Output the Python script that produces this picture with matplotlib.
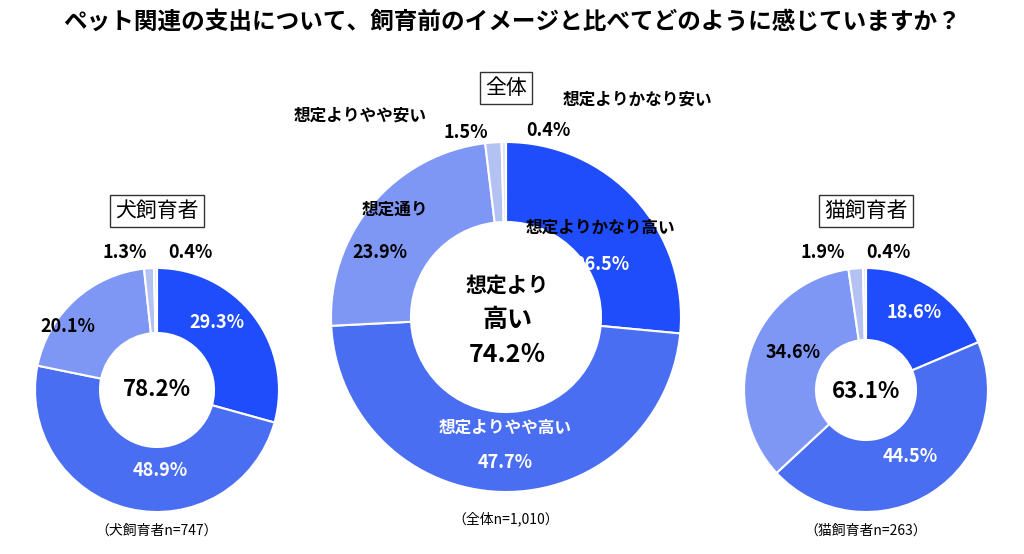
import matplotlib
matplotlib.use("Agg")
import matplotlib.pyplot as plt

plt.rcParams['font.family'] = ['Noto Sans CJK JP', 'DejaVu Sans']

categories = ["想定よりかなり高い", "想定よりやや高い", "想定通り", "想定よりやや安い", "想定よりかなり安い"]
dog = [29.3, 48.9, 20.1, 1.3, 0.4]
total = [26.5, 47.7, 23.9, 1.5, 0.4]
cat = [18.6, 44.5, 34.6, 1.9, 0.4]
colors = ["#1f4dfc", "#4a6ef2", "#7f97f4", "#b3c1f3", "#dde3f7"]

H = 554
fig = plt.figure(figsize=(10.24, 5.54), dpi=100)
ax = fig.add_axes([0, 0, 1, 1])
ax.set_xlim(0, 1024); ax.set_ylim(0, H); ax.set_aspect('equal'); ax.axis('off')

def donut(vals, cx, cy, r, rin):
    ax.pie(vals, colors=colors, startangle=90, counterclock=False, center=(cx, H - cy),
           radius=r, wedgeprops=dict(width=r - rin, edgecolor='white', linewidth=1.5), frame=True)

donut(dog, 157, 390, 122, 57)
donut(total, 506, 317, 175, 95)
donut(cat, 866, 390, 122, 50)
ax.set_xlim(0, 1024); ax.set_ylim(0, H); ax.axis('off')

def t(x, y, s, size=13, color='black', weight='bold', **kw):
    ax.text(x, H - y, s, fontsize=size, color=color, weight=weight, ha='center', va='center', **kw)

t(512, 22, "ペット関連の支出について、飼育前のイメージと比べてどのように感じていますか？", size=17)

box = dict(boxstyle='square,pad=0.25', fc='white', ec='#333333', lw=1)
t(506, 88, "全体", size=15, weight='normal', bbox=box)
t(157, 211, "犬飼育者", size=15, weight='normal', bbox=box)
t(866, 211, "猫飼育者", size=15, weight='normal', bbox=box)

# dog
t(217, 323, f"{dog[0]}%", color='white')
t(160, 470, f"{dog[1]}%", color='white')
t(68, 327, f"{dog[2]}%")
t(125, 252, f"{dog[3]}%")
t(190, 252, f"{dog[4]}%")
t(157, 390, "78.2%", size=16)
# total
t(600, 228, categories[0], size=12)
t(602, 265, f"{total[0]}%", color='white')
t(505, 428, categories[1], size=12, color='white')
t(505, 462, f"{total[1]}%", color='white')
t(395, 210, categories[2], size=12)
t(380, 253, f"{total[2]}%")
t(360, 116, categories[3], size=12)
t(466, 133, f"{total[3]}%")
t(637, 100, categories[4], size=12)
t(548, 130, f"{total[4]}%")
t(507, 285, "想定より", size=15)
t(507, 320, "高い", size=18)
t(507, 355, "74.2％", size=18)
# cat
t(914, 313, f"{cat[0]}%", color='white')
t(910, 456, f"{cat[1]}%", color='white')
t(793, 352, f"{cat[2]}%")
t(823, 252, f"{cat[3]}%")
t(888, 252, f"{cat[4]}%")
t(866, 392, "63.1%", size=16)

t(157, 531, "（犬飼育者n=747）", size=10, weight='normal')
t(506, 519, "（全体n=1,010）", size=10, weight='normal')
t(866, 531, "（猫飼育者n=263）", size=10, weight='normal')

fig.savefig("out.png", dpi=100)
